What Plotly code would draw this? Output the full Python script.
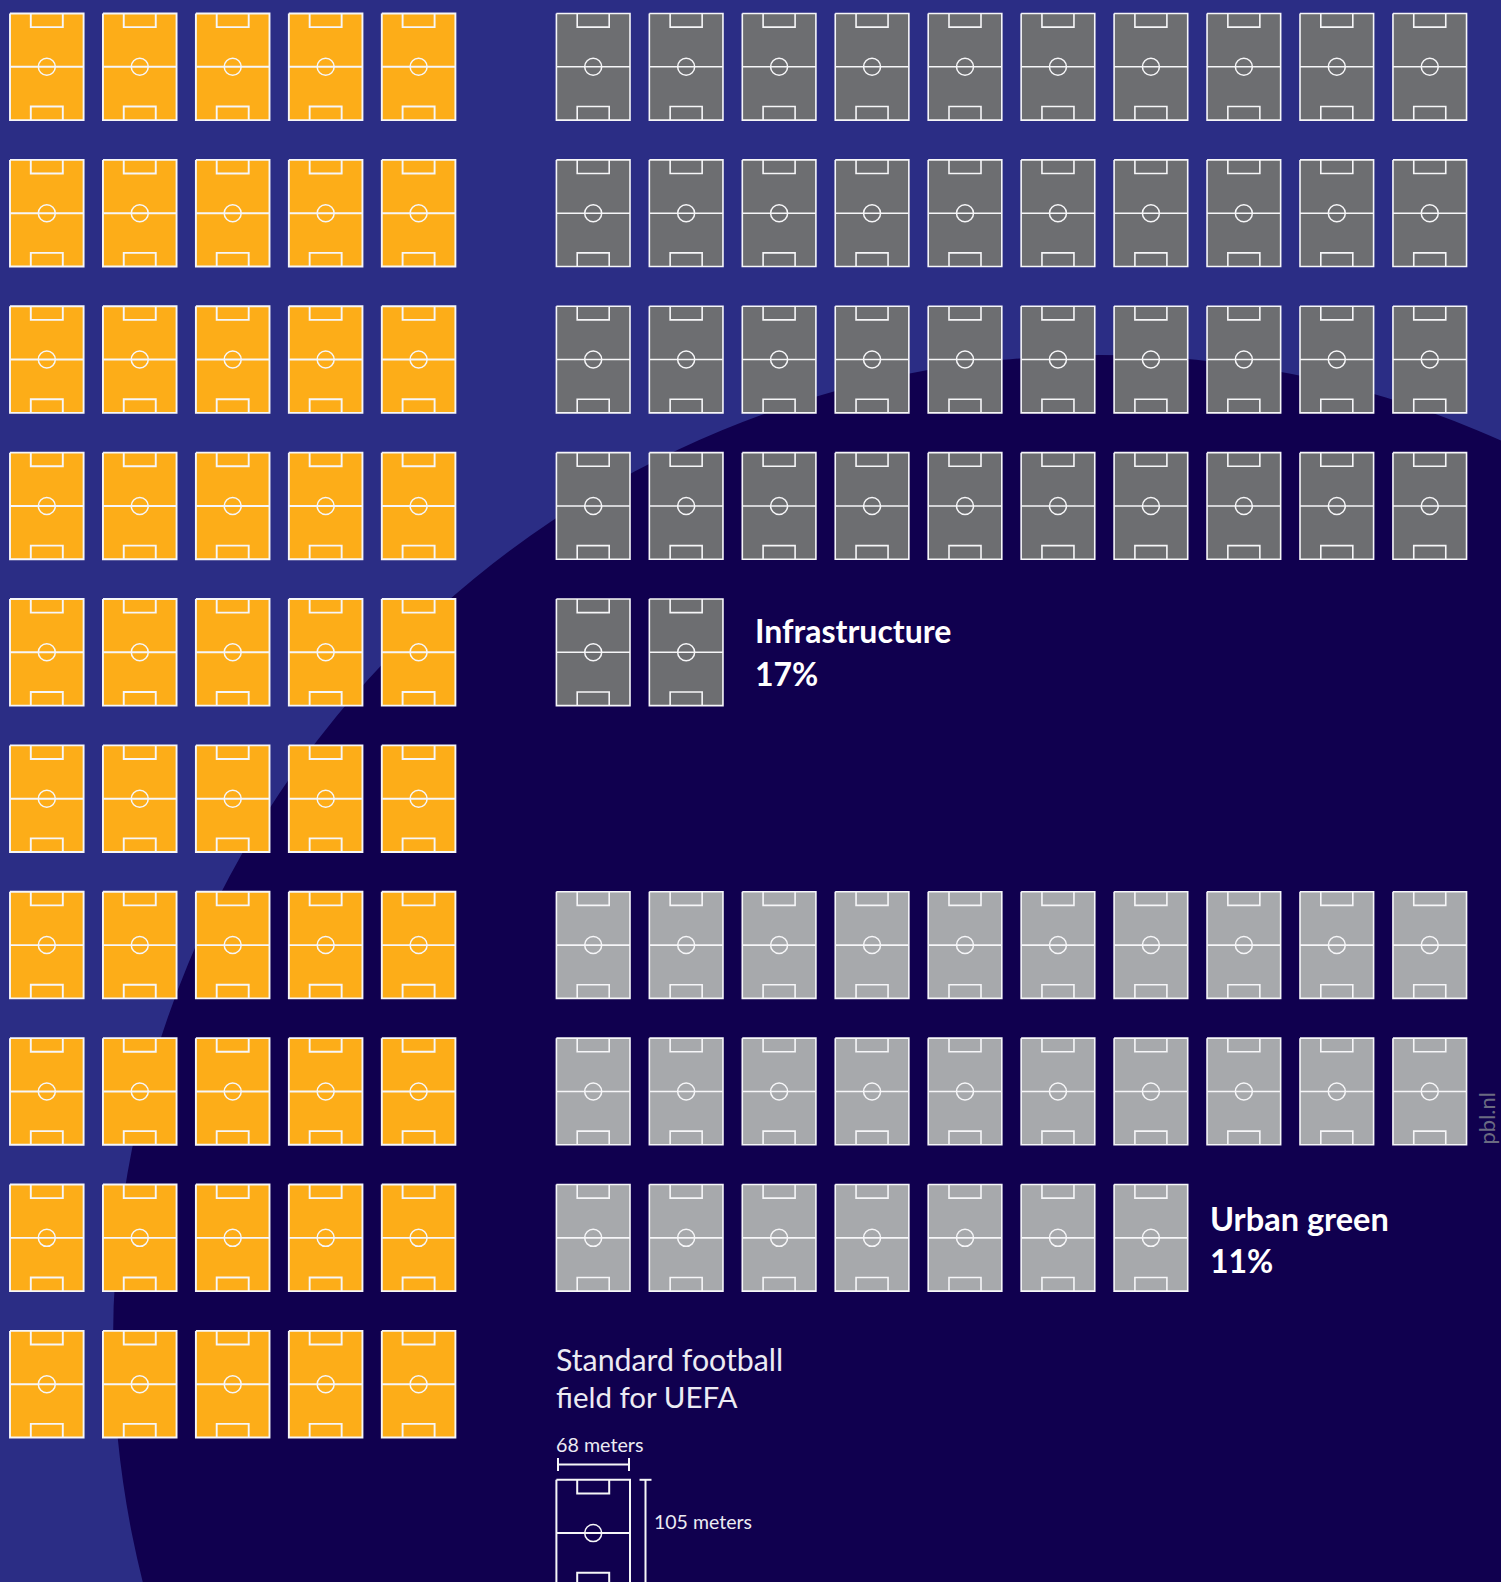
import plotly.graph_objects as go

# ---- data -------------------------------------------------------------
category_names = ["Other", "Infrastructure", "Urban green"]
field_counts = [50, 42, 27]
fields_per_row = [5, 10, 10]
share_labels = ["", "Infrastructure", "Urban green"]
share_values = ["", "17%", "11%"]
legend_title = ["Standard football", "field for UEFA"]
legend_width = "68 meters"
legend_height = "105 meters"
credit = "pbl.nl"

# ---- layout / style ---------------------------------------------------
W, H = 1501, 1582
BG, DISC = "#2b2d85", "#10004f"
COLORS = ["#fdad18", "#6d6e71", "#a7a9ac"]
LINE = "#f6f6f8"
LINE_W = [1.9, 1.6, 1.6]
FIELD_W, FIELD_H = 73.6, 106.6
PITCH_X, PITCH_Y = 92.95, 146.38
BOX_W, BOX_D = 32.0, 13.6
CIRCLE = 17
ORIGINS = [(10.0, 13.5, 0), (556.4, 13.5, 0), (556.4, 13.5, 6)]  # x0, y0, first row
FONT = "Lato"


def outline(x, y):
    """White markings of a pitch whose top-left corner is (x, y)."""
    xs, ys = [], []
    mx, my = x + FIELD_W / 2, y + FIELD_H / 2
    b0, b1 = mx - BOX_W / 2, mx + BOX_W / 2
    top, bot = y, y + FIELD_H
    segs = [
        ([x, x + FIELD_W, x + FIELD_W, x, x], [top, top, bot, bot, top]),
        ([x, x + FIELD_W], [my, my]),
        ([b0, b0, b1, b1], [top, top + BOX_D, top + BOX_D, top]),
        ([b0, b0, b1, b1], [bot, bot - BOX_D, bot - BOX_D, bot]),
    ]
    for sx, sy in segs:
        xs += sx + [None]
        ys += sy + [None]
    return xs, ys, mx, my


fig = go.Figure()


def add_fields(positions, fill, lw):
    fx, fy, lx, ly, cx, cy = [], [], [], [], [], []
    for x, y in positions:
        fx += [x, x + FIELD_W, x + FIELD_W, x, x, None]
        fy += [y, y, y + FIELD_H, y + FIELD_H, y, None]
        a, b, mx, my = outline(x, y)
        lx += a
        ly += b
        cx.append(mx)
        cy.append(my)
    if fill:
        fig.add_trace(go.Scatter(x=fx, y=fy, mode="lines", fill="toself", fillcolor=fill,
                                 line=dict(width=0, color=fill), hoverinfo="skip", showlegend=False))
    fig.add_trace(go.Scatter(x=lx, y=ly, mode="lines", line=dict(color=LINE, width=lw),
                             hoverinfo="skip", showlegend=False))
    fig.add_trace(go.Scatter(x=cx, y=cy, mode="markers", hoverinfo="skip", showlegend=False,
                             marker=dict(symbol="circle-open", size=CIRCLE, color=LINE,
                                         line=dict(width=1.5, color=LINE))))


for i, (n, per_row) in enumerate(zip(field_counts, fields_per_row)):
    x0, y0, first = ORIGINS[i]
    add_fields([(x0 + (k % per_row) * PITCH_X, y0 + (first + k // per_row) * PITCH_Y)
                for k in range(n)], COLORS[i], LINE_W[i])

# UEFA reference field (runs off the bottom of the page)
LEG_X, LEG_Y = 556.4, 1479.8
add_fields([(LEG_X, LEG_Y)], None, 2.0)
fig.add_trace(go.Scatter(
    x=[558, 629, None, 558, 558, None, 629, 629, None, 639.5, 651.5, None, 645.5, 645.5],
    y=[1464.5, 1464.5, None, 1458, 1471, None, 1458, 1471, None, 1479.8, 1479.8, None, 1479.8, 1590],
    mode="lines", line=dict(color=LINE, width=2.0), hoverinfo="skip", showlegend=False))


def label(text, x, y, size, bold=False, color="white", **kw):
    t = f"<b>{text}</b>" if bold else text
    fig.add_annotation(x=x, y=y, text=t, showarrow=False, xref="x", yref="y",
                       xanchor=kw.pop("xanchor", "left"), yanchor=kw.pop("yanchor", "middle"),
                       font=dict(family=FONT, size=size, color=color), borderpad=0, **kw)


label(share_labels[1], 754, 630, 32, True)
label(share_values[1], 754, 673.5, 32, True)
label(share_labels[2], 1209, 1218, 32.5, True)
label(share_values[2], 1209, 1260.5, 32, True)
label(legend_title[0], 554.5, 1358.5, 30.3, color="#ecebf3")
label(legend_title[1], 554.5, 1396.5, 29.5, color="#ecebf3")
label(legend_width, 555, 1444, 19.7, color="#ecebf3")
label(legend_height, 652.5, 1521.5, 19.5, color="#ecebf3")
label(credit, 1485.5, 1118, 22, color="#6b6b82", xanchor="center", textangle=-90)

# large dark disc behind everything
CX, CY, R = 1099.5, 1341.6, 986.5
fig.update_layout(
    width=W, height=H, autosize=False,
    margin=dict(l=0, r=0, t=0, b=0, pad=0),
    paper_bgcolor=BG, plot_bgcolor=BG, showlegend=False,
    xaxis=dict(range=[0, W], visible=False, fixedrange=True),
    yaxis=dict(range=[H, 0], visible=False, fixedrange=True),
    shapes=[dict(type="circle", xref="x", yref="y", x0=CX - R, x1=CX + R, y0=CY - R, y1=CY + R,
                 fillcolor=DISC, line=dict(width=0), layer="below")],
)

fig.write_html("out.html", config={"displayModeBar": False},
               post_script="document.body.style.margin='0';document.body.style.overflow='hidden';")
